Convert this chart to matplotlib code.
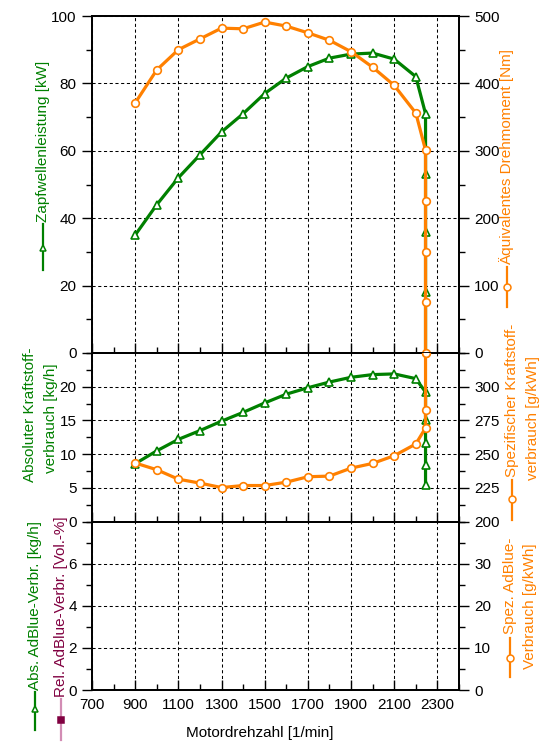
import numpy as np
import matplotlib
matplotlib.use("Agg")
import matplotlib.pyplot as plt
from matplotlib.lines import Line2D
from matplotlib.ticker import MultipleLocator

plt.rcParams['font.family'] = ['Liberation Sans', 'DejaVu Sans']
plt.rcParams['font.size'] = 11

GREEN = '#008000'
ORANGE = '#ff8000'
MAROON = '#800040'
PINK = '#d28cb4'

# engine speed [1/min]
rpm = [900, 1000, 1100, 1200, 1300, 1400, 1500, 1600, 1700, 1800, 1900,
       2000, 2100, 2200, 2245, 2245, 2245, 2245, 2245]
# PTO power [kW]
power = [35, 44, 52, 58.8, 65.6, 71, 77, 81.6, 85, 87.5, 88.7,
         89, 87.2, 82, 71, 53, 36, 18, 0]
# equivalent torque [Nm]
torque = [371, 420, 450, 466, 482, 481, 491, 485, 475, 464, 447,
          424, 397, 356, 301, 225, 150, 76, 0]
# absolute fuel consumption [kg/h]
fuel = [8.6, 10.5, 12.2, 13.5, 14.9, 16.2, 17.6, 18.9, 19.85, 20.7, 21.4,
        21.8, 21.9, 21.2, 19.2, 15.0, 11.6, 8.4, 5.4]
# specific fuel consumption [g/kWh]
spec_fuel = [243.5, 238.5, 231.5, 228.6, 225.3, 226.8, 226.8, 229.3, 233.3, 233.8, 239.7,
             243.2, 248.9, 257.6, 269.5, 282.6, 325, 470, np.nan]

W, H = 557, 746
fig = plt.figure(figsize=(W / 100, H / 100), dpi=100)


def px(x, y):
    return x / W, 1 - y / H


left, right = 92, 459
panels = [(16, 353), (353, 521.7), (521.7, 690)]
axes = []
for top, bot in panels:
    ax = fig.add_axes([left / W, 1 - bot / H, (right - left) / W, (bot - top) / H])
    axes.append(ax)
ax1, ax2, ax3 = axes
twins = [ax.twinx() for ax in axes]
ax1r, ax2r, ax3r = twins

grid_kw = dict(color='black', lw=0.75, ls=(0, (3, 2.5)))

for ax, axr in zip(axes, twins):
    ax.set_xlim(700, 2400)
    ax.set_xticks(range(700, 2400, 200))
    ax.xaxis.set_minor_locator(MultipleLocator(100))
    ax.tick_params(axis='x', which='both', direction='in', top=False)
    ax.tick_params(axis='x', which='major', length=7, width=1)
    ax.tick_params(axis='x', which='minor', length=4, width=1)
    ax.tick_params(axis='y', which='major', direction='out', length=7, width=1, pad=4)
    ax.tick_params(axis='y', which='minor', direction='out', length=4, width=1)
    axr.tick_params(axis='y', which='major', direction='out', length=7, width=1, pad=4)
    axr.tick_params(axis='y', which='minor', direction='out', length=4, width=1)
    ax.grid(True, which='major', **grid_kw)
    for a in (ax, axr):
        for sp in a.spines.values():
            sp.set_linewidth(1.3)

ax1.tick_params(labelbottom=False)
ax2.tick_params(labelbottom=False)
ax3.tick_params(axis='x', pad=6)

# panel 1: power / torque
ax1.set_ylim(0, 100)
ax1.set_yticks([0, 20, 40, 60, 80, 100])
ax1.yaxis.set_minor_locator(MultipleLocator(10))
ax1r.set_ylim(0, 500)
ax1r.set_yticks([0, 100, 200, 300, 400, 500])
ax1r.yaxis.set_minor_locator(MultipleLocator(50))

ax1.plot(rpm, power, color=GREEN, lw=2.3, marker='^', ms=6, mfc='white',
         mec=GREEN, mew=1.2, clip_on=False, zorder=3)
ax1r.plot(rpm, torque, color=ORANGE, lw=2.3, marker='o', ms=5.5, mfc='white',
          mec=ORANGE, mew=1.2, clip_on=False, zorder=3)

# panel 2: fuel consumption
ax2.set_ylim(0, 25)
ax2.set_yticks([0, 5, 10, 15, 20])
ax2.yaxis.set_minor_locator(MultipleLocator(2.5))
ax2r.set_ylim(200, 325)
ax2r.set_yticks([200, 225, 250, 275, 300])
ax2r.yaxis.set_minor_locator(MultipleLocator(12.5))

ax2.plot(rpm, fuel, color=GREEN, lw=2.3, marker='^', ms=6, mfc='white',
         mec=GREEN, mew=1.2, zorder=3)
ax2r.plot(rpm, spec_fuel, color=ORANGE, lw=2.3, marker='o', ms=5.5, mfc='white',
          mec=ORANGE, mew=1.2, zorder=3)

# panel 3: AdBlue (no data)
ax3.set_ylim(0, 8)
ax3.set_yticks([0, 2, 4, 6])
ax3.yaxis.set_minor_locator(MultipleLocator(1))
ax3r.set_ylim(0, 40)
ax3r.set_yticks([0, 10, 20, 30])
ax3r.yaxis.set_minor_locator(MultipleLocator(5))

fig.text(*px(260, 733), 'Motordrehzahl [1/min]', ha='center', va='center')


def label(x, y, text, color, va='bottom'):
    fig.text(*px(x, y), text, rotation=90, ha='center', va=va, color=color)


def sample(x, y0, y1, ym, color, marker, mfc='white', lcolor=None, ms=5):
    fig.add_artist(Line2D([x / W, x / W], [1 - y0 / H, 1 - y1 / H],
                          transform=fig.transFigure, color=lcolor or color, lw=1.6))
    fig.add_artist(Line2D([x / W], [1 - ym / H], transform=fig.transFigure,
                          marker=marker, color=color, mfc=mfc, mec=color, ms=ms, mew=1.1))


label(43, 222, 'Zapfwellenleistung [kW]', GREEN)
sample(43, 224, 270, 248, GREEN, '^')

label(507, 265, 'Äquivalentes Drehmoment [Nm]', ORANGE)
sample(507, 267, 307, 287, ORANGE, 'o')

label(30, 415, 'Absoluter Kraftstoff-', GREEN, va='center')
label(51, 418, 'verbrauch [kg/h]', GREEN, va='center')

label(512, 477, 'Spezifischer Kraftstoff-', ORANGE)
sample(512, 480, 520, 499, ORANGE, 'o')
label(533, 418, 'verbrauch [g/kWh]', ORANGE, va='center')

label(35, 690, 'Abs. AdBlue-Verbr. [kg/h]', GREEN)
sample(35, 692, 730, 709, GREEN, '^')

label(61, 697, 'Rel. AdBlue-Verbr. [Vol.-%]', MAROON)
sample(61, 699, 740, 720, MAROON, 's', mfc=MAROON, lcolor=PINK)

label(510, 634, 'Spez. AdBlue-', ORANGE)
sample(510, 638, 677, 658, ORANGE, 'o')
label(530, 606, 'Verbrauch [g/kWh]', ORANGE, va='center')

fig.savefig('out.png', dpi=100)
